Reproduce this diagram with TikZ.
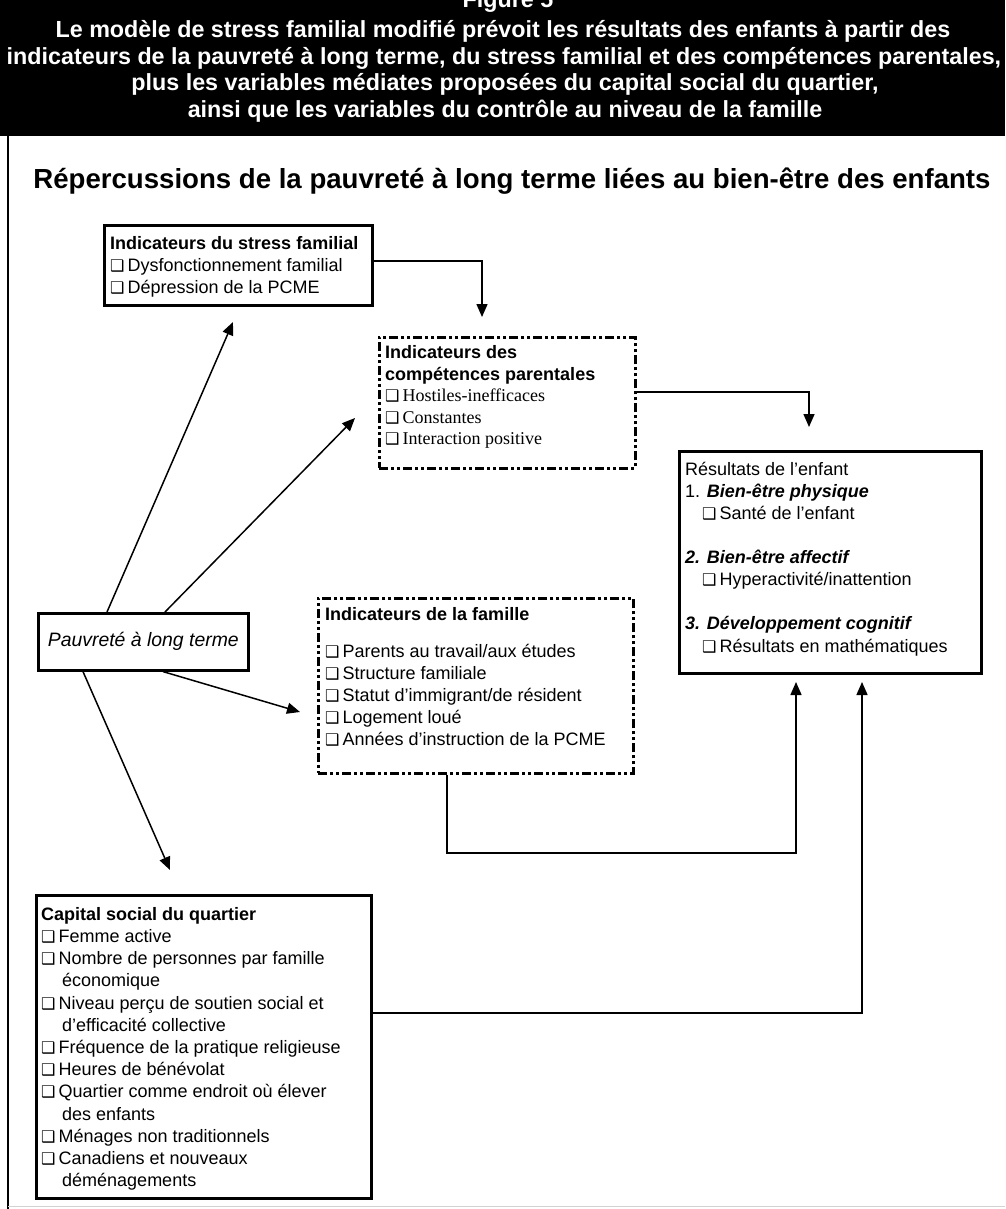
\documentclass[tikz,border=0pt]{standalone}
\usepackage{fontspec}
\setmainfont{Liberation Sans}
\newfontfamily\timesf{Liberation Serif}
\newfontfamily\symf{DejaVu Sans}
\usetikzlibrary{arrows.meta,calc}
% small drop-shadowed check box used in front of every list item
\newcommand\cbx{{\symf\fontsize{16pt}{16pt}\selectfont ❑}\hspace{3pt}}

\begin{document}
\begin{tikzpicture}[x=1pt,y=-1pt,
  boxsolid/.style={draw, line width=2.6pt, anchor=north west, inner sep=0pt},
  boxdash/.style={boxsolid, dash pattern=on 9pt off 3pt on 3pt off 3pt on 3pt off 3pt},
  txt/.style={anchor=north west, inner sep=0pt, align=left, font=\fontsize{18pt}{22pt}\selectfont},
  conn/.style={line width=1.5pt},
  arr/.style={conn, -{Triangle[length=13pt,width=11pt]}},
  hdr/.style={anchor=base, text=white, inner sep=0pt, font=\fontsize{23.3pt}{27pt}\selectfont\bfseries},
]
\useasboundingbox (0,0) rectangle (1005,1209);
\clip (0,0) rectangle (1005,1209);

% header band
\fill[black] (0,0) rectangle (1005,136);
\node[hdr] (fig) at (508,8) {Figure 5};
\node[hdr] (h1) at (503,38) {Le modèle de stress familial modifié prévoit les résultats des enfants à partir des};
\node[hdr] (h2) at (504,65) {indicateurs de la pauvreté à long terme, du stress familial et des compétences parentales,};
\node[hdr] (h3) at (505,91) {plus les variables médiates proposées du capital social du quartier,};
\node[hdr] (h4) at (505,118) {ainsi que les variables du contrôle au niveau de la famille};

% page frame
\draw[line width=2pt] (8,136) -- (8,1209);
\draw[gray!35, line width=1pt] (8,1206) -- (1005,1206);

% title
\node[anchor=base, inner sep=0pt, font=\fontsize{27.6pt}{30pt}\selectfont\bfseries] (title) at (512,189)
  {Répercussions de la pauvreté à long terme liées au bien-être des enfants};

% stress
\node[boxsolid, minimum width=268pt, minimum height=80pt] (stress) at (103,224) {};
\node[txt] (stress-t) at (110,233.6) {\strut\textbf{Indicateurs du stress familial}\\
  \cbx Dysfonctionnement familial\\
  \cbx Dépression de la PCME};

% parenting
\node[boxdash, minimum width=256pt, minimum height=131pt] (comp) at (378,336) {};
\node[txt, font=\fontsize{18pt}{21.5pt}\selectfont] (comp-t) at (385,343.6) {\strut\textbf{Indicateurs des}\\
  \textbf{compétences parentales}\\
  \cbx{\timesf Hostiles-inefficaces}\\
  \cbx{\timesf Constantes}\\
  \cbx{\timesf Interaction positive}};

% child outcomes
\node[boxsolid, minimum width=302pt, minimum height=222pt] (res) at (678,450) {};
\node[txt, font=\fontsize{18pt}{22.1pt}\selectfont] (res-t) at (685,459.6) {\strut Résultats de l’enfant\\
  1. \textbf{\textit{Bien-être physique}}\\
  \hspace*{17pt}\cbx Santé de l’enfant\\[22.1pt]
  \textbf{\textit{2. Bien-être affectif}}\\
  \hspace*{17pt}\cbx Hyperactivité/inattention\\[22.1pt]
  \textbf{\textit{3. Développement cognitif}}\\
  \hspace*{17pt}\cbx Résultats en mathématiques};

% long-term poverty
\node[boxsolid, minimum width=210pt, minimum height=57pt] (pauv) at (37,612) {};
\node[inner sep=0pt, font=\fontsize{19.4pt}{22pt}\selectfont\itshape] (pauv-t) at (pauv.center) {Pauvreté à long terme};

% family
\node[boxdash, minimum width=315pt, minimum height=175pt] (fam) at (317,597) {};
\node[txt] (fam-t) at (325,604.6) {\strut\textbf{Indicateurs de la famille}\\[15pt]
  \cbx Parents au travail/aux études\\
  \cbx Structure familiale\\
  \cbx Statut d’immigrant/de résident\\
  \cbx Logement loué\\
  \cbx Années d’instruction de la PCME};

% neighbourhood social capital
\node[boxsolid, minimum width=335pt, minimum height=303pt] (cap) at (35,894) {};
\node[txt, font=\fontsize{18pt}{22.2pt}\selectfont] (cap-t) at (41,904.6) {\strut\textbf{Capital social du quartier}\\
  \cbx Femme active\\
  \cbx Nombre de personnes par famille\\
  \hspace*{21pt}économique\\
  \cbx Niveau perçu de soutien social et\\
  \hspace*{21pt}d’efficacité collective\\
  \cbx Fréquence de la pratique religieuse\\
  \cbx Heures de bénévolat\\
  \cbx Quartier comme endroit où élever\\
  \hspace*{21pt}des enfants\\
  \cbx Ménages non traditionnels\\
  \cbx Canadiens et nouveaux\\
  \hspace*{21pt}déménagements};

% connector end points
\coordinate (t-stress) at (233,322);
\coordinate (t-comp) at (355,418);
\coordinate (t-fam) at (300,712);
\coordinate (t-cap) at (170,870);
\coordinate (s-bend) at (482,261);
\coordinate (c-bend) at (809,392);
\coordinate (f-down) at (447,853);
\coordinate (f-tip) at (796,682);
\coordinate (k-tip) at (862,682);
\coordinate (k-row) at (0,1013);

% paths out of long-term poverty
\draw[arr] ($(pauv.north west)+(70,0)$) -- (t-stress);
\draw[arr] ($(pauv.north west)+(128,0)$) -- (t-comp);
\draw[arr] ($(pauv.south west)+(126,0)$) -- (t-fam);
\draw[arr] ($(pauv.south west)+(46,0)$) -- (t-cap);

% stress -> parenting -> outcomes
\draw[arr] (stress.east |- s-bend) -- (s-bend) -- ($(s-bend)+(0,56)$);
\draw[arr] (comp.east |- c-bend) -- (c-bend) -- ($(c-bend)+(0,35)$);

% family and social capital -> outcomes
\draw[arr] (fam.south -| f-down) -- (f-down) -- (f-down -| f-tip) -- (f-tip);
\draw[arr] (cap.east |- k-row) -- (k-row -| k-tip) -- (k-tip);
\end{tikzpicture}
\end{document}
